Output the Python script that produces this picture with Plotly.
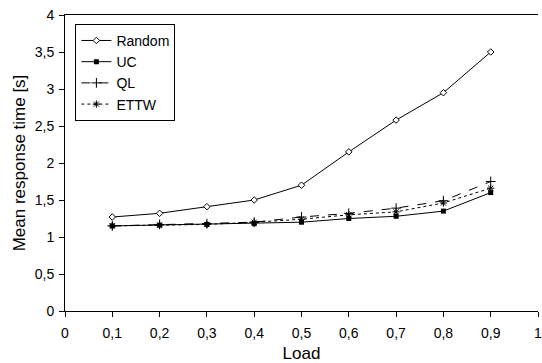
import plotly.graph_objects as go

load = [0.1, 0.2, 0.3, 0.4, 0.5, 0.6, 0.7, 0.8, 0.9]
random_vals = [1.27, 1.32, 1.41, 1.50, 1.70, 2.15, 2.58, 2.95, 3.50]
uc_vals = [1.15, 1.16, 1.17, 1.18, 1.20, 1.25, 1.28, 1.35, 1.60]
ql_vals = [1.15, 1.17, 1.18, 1.20, 1.27, 1.32, 1.39, 1.49, 1.75]
ettw_vals = [1.15, 1.16, 1.17, 1.20, 1.24, 1.30, 1.34, 1.46, 1.66]

x_tickvals = [0, 0.1, 0.2, 0.3, 0.4, 0.5, 0.6, 0.7, 0.8, 0.9, 1.0]
x_ticktext = ["0", "0,1", "0,2", "0,3", "0,4", "0,5", "0,6", "0,7", "0,8", "0,9", "1"]
y_tickvals = [0, 0.5, 1, 1.5, 2, 2.5, 3, 3.5, 4]
y_ticktext = ["0", "0,5", "1", "1,5", "2", "2,5", "3", "3,5", "4"]

fig = go.Figure()
fig.add_trace(go.Scatter(x=load, y=random_vals, name="Random", mode="lines+markers",
                         line=dict(color="black", width=1),
                         marker=dict(symbol="diamond", size=5, color="white",
                                     line=dict(color="black", width=1))))
fig.add_trace(go.Scatter(x=load, y=uc_vals, name="UC", mode="lines+markers",
                         line=dict(color="black", width=1),
                         marker=dict(symbol="square", size=5, color="black")))
fig.add_trace(go.Scatter(x=load, y=ql_vals, name="QL", mode="lines+markers",
                         line=dict(color="black", width=1, dash="dash"),
                         marker=dict(symbol="cross-thin", size=7, color="black",
                                     line=dict(color="black", width=1))))
fig.add_trace(go.Scatter(x=load, y=ettw_vals, name="ETTW", mode="lines+markers",
                         line=dict(color="black", width=1, dash="dot"),
                         marker=dict(symbol="asterisk", size=6, color="black",
                                     line=dict(color="black", width=1))))

font_family = "Liberation Sans, Arial, sans-serif"
fig.update_layout(
    width=542, height=363,
    margin=dict(l=65, r=0, t=15, b=52),
    paper_bgcolor="white", plot_bgcolor="white",
    font=dict(family=font_family, size=14, color="black"),
    showlegend=True,
    legend=dict(x=0.022, y=0.97, xanchor="left", yanchor="top",
                bordercolor="black", borderwidth=1, bgcolor="white",
                font=dict(size=14), tracegroupgap=0),
    xaxis=dict(range=[0, 1], tickvals=x_tickvals, ticktext=x_ticktext,
               showgrid=False, zeroline=False, showline=True, linecolor="black",
               linewidth=1, mirror=True, ticks="outside", ticklen=5,
               tickcolor="black", title=dict(text="Load", standoff=8),
               tickfont=dict(size=14), ticklabeloverflow="allow",
               ticklabelstandoff=4),
    yaxis=dict(range=[0, 4], tickvals=y_tickvals, ticktext=y_ticktext,
               showgrid=False, zeroline=False, showline=True, linecolor="black",
               linewidth=1, ticks="outside", ticklen=5, tickcolor="black",
               title=dict(text="Mean response time [s]", standoff=4),
               tickfont=dict(size=14), ticklabelstandoff=2),
)

fig.write_html("out.html")
